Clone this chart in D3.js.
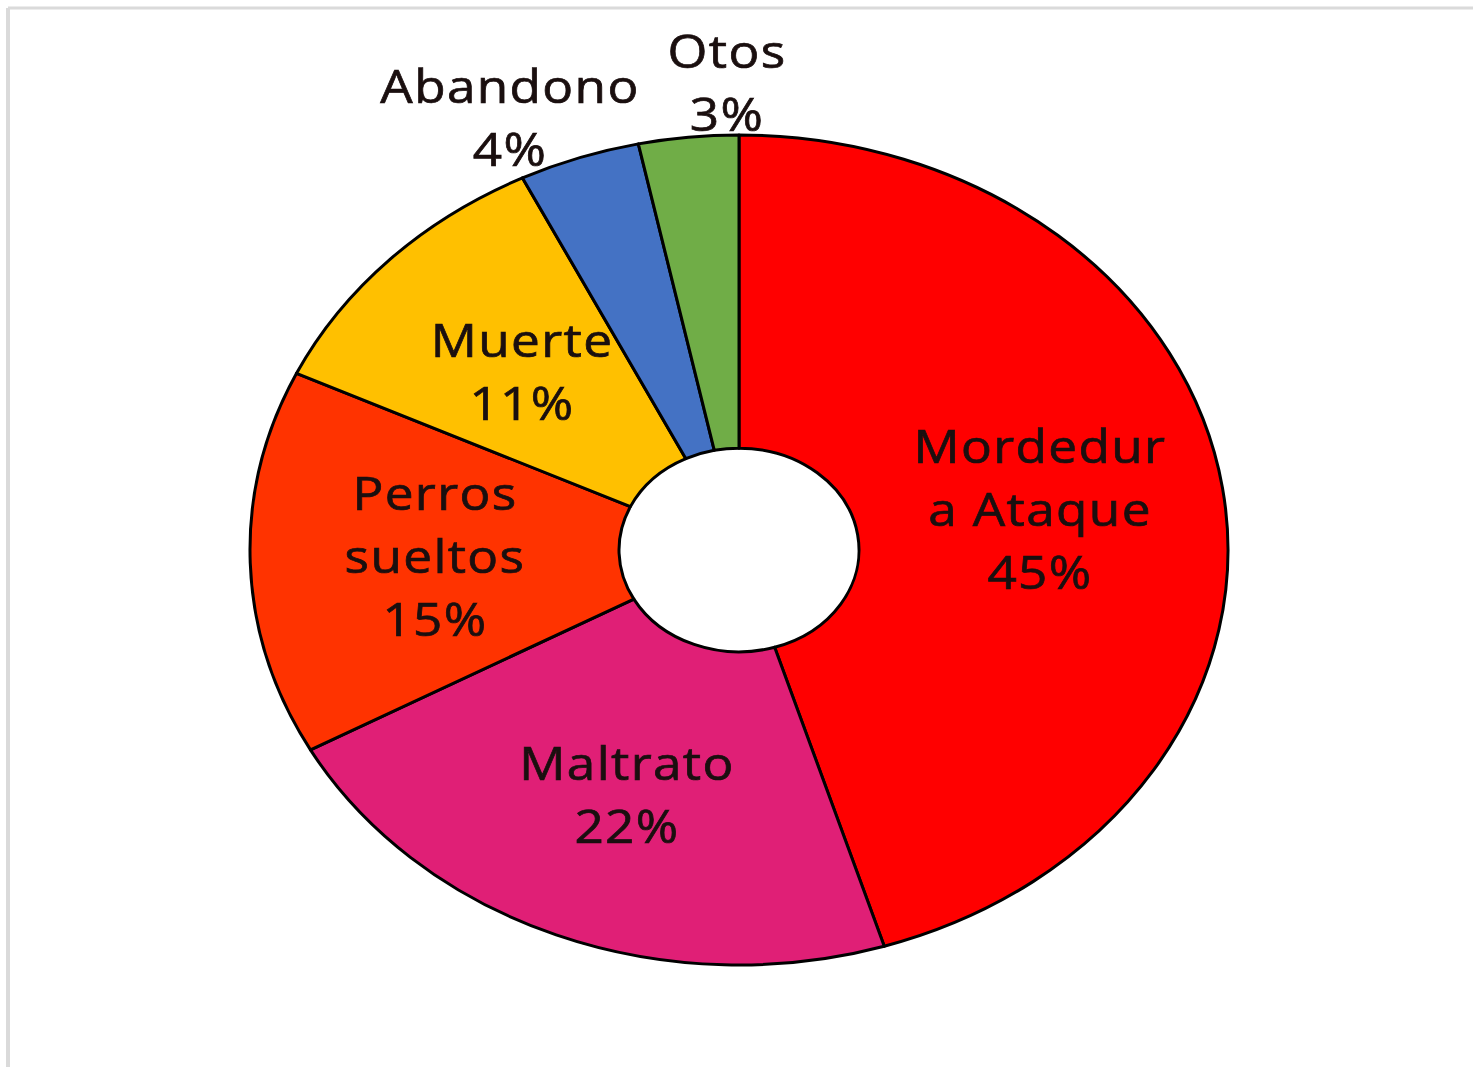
<!DOCTYPE html>
<html>
<head>
<meta charset="utf-8">
<script src="https://cdn.jsdelivr.net/npm/d3@7"></script>
<style>
  html, body { margin: 0; padding: 0; background: #ffffff; }
  svg { display: block; }
  text { font-family: "Open Sans", "Lato", sans-serif; }
</style>
</head>
<body>
<svg id="chart" width="1473" height="1067"></svg>
<script>
// ---- data ----
const categories = ["Mordedura Ataque", "Maltrato", "Perros sueltos", "Muerte", "Abandono", "Otos"];
// slice sizes (labels show the rounded percentages)
const values = [45.2, 21.8, 15.0, 10.7, 4.0, 3.3];
const labelLines = [
  ["Mordedur", "a Ataque", "45%"],
  ["Maltrato", "22%"],
  ["Perros", "sueltos", "15%"],
  ["Muerte", "11%"],
  ["Abandono", "4%"],
  ["Otos", "3%"]
];
const colors = ["#FF0000", "#E01F76", "#FF3300", "#FFC000", "#4472C4", "#70AD47"];

// ---- layout ----
const W = 1473, H = 1067;
const cx = 739, cy = 550;
const R = 489, r = 120;
const yScale = 415 / 489;
const labelPos = [
  { x: 1040, y: 510 },
  { x: 627, y: 795 },
  { x: 435, y: 557 },
  { x: 522, y: 372 },
  { x: 510, y: 118 },
  { x: 727, y: 83 }
];
const lineH = 63;
const fontSize = 45;
const widen = 1.14;

const svg = d3.select("#chart");

// frame
svg.append("rect").attr("x", 0).attr("y", 0).attr("width", W).attr("height", H).attr("fill", "#ffffff");
svg.append("line").attr("x1", 8).attr("y1", 8).attr("x2", W).attr("y2", 8)
  .attr("stroke", "#dadada").attr("stroke-width", 3);
svg.append("line").attr("x1", 8).attr("y1", 8).attr("x2", 8).attr("y2", H)
  .attr("stroke", "#dadada").attr("stroke-width", 4);

const pie = d3.pie().sort(null).value(d => d)(values);
const arc = d3.arc().innerRadius(r).outerRadius(R);

const g = svg.append("g").attr("transform", `translate(${cx},${cy}) scale(1,${yScale})`);
g.selectAll("path.slice").data(pie).enter().append("path")
  .attr("class", "slice")
  .attr("d", arc)
  .attr("fill", (d, i) => colors[i])
  .attr("stroke", "#000000")
  .attr("stroke-width", 3)
  .attr("stroke-linejoin", "round")
  .attr("vector-effect", "non-scaling-stroke");

// labels
const lg = svg.append("g");
labelLines.forEach((lines, i) => {
  const p = labelPos[i];
  const t = lg.append("text")
    .attr("transform", `translate(${p.x},${p.y}) scale(${widen},1)`)
    .attr("text-anchor", "middle")
    .attr("font-size", fontSize)
    .attr("letter-spacing", 1.2)
    .attr("fill", "#1a0f0f")
    .attr("stroke", "#1a0f0f")
    .attr("stroke-width", 0.7);
  const n = lines.length;
  lines.forEach((s, k) => {
    t.append("tspan")
      .attr("x", 0)
      .attr("y", (k - (n - 1) / 2) * lineH + fontSize * 0.36)
      .text(s);
  });
});
</script>
</body>
</html>
